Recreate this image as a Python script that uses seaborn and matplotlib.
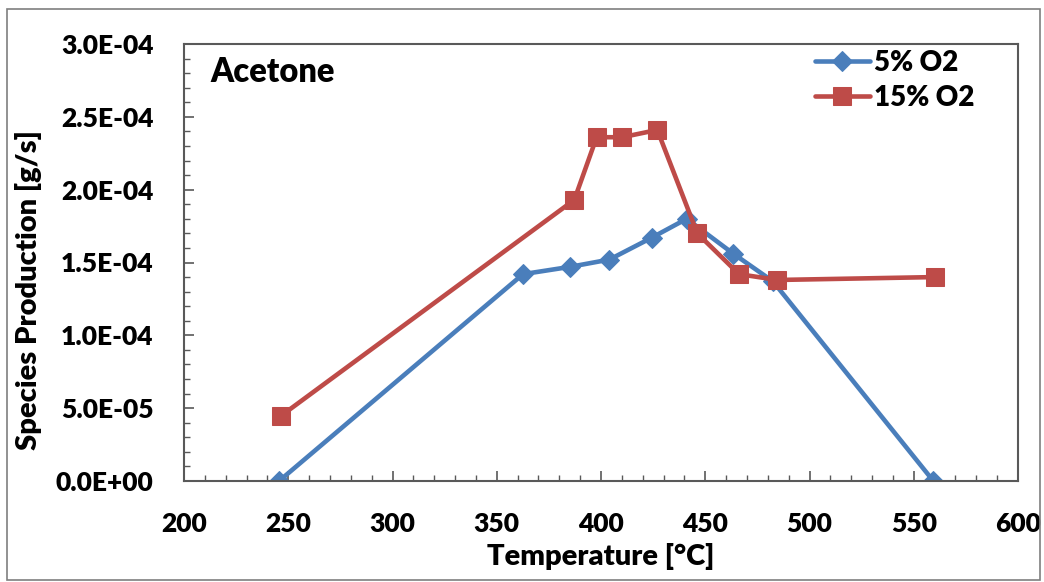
import matplotlib
matplotlib.use("Agg")
import matplotlib.pyplot as plt
import seaborn as sns
import pandas as pd
from matplotlib.ticker import MultipleLocator
from matplotlib.patches import Rectangle

# Data
temp_5 = [245.6, 362.6, 385.1, 404.0, 424.3, 441.1, 463.5, 482.5, 559.4]
prod_5 = [0.0, 1.42e-4, 1.47e-4, 1.52e-4, 1.67e-4, 1.80e-4, 1.56e-4, 1.37e-4, 0.0]
temp_15 = [246.4, 387.2, 397.9, 410.2, 427.0, 446.2, 466.2, 484.6, 560.2]
prod_15 = [4.46e-5, 1.93e-4, 2.36e-4, 2.36e-4, 2.41e-4, 1.70e-4, 1.42e-4, 1.38e-4, 1.40e-4]
series_names = ["5% O2", "15% O2"]
x_ticks = [200, 250, 300, 350, 400, 450, 500, 550, 600]
y_ticks = [0.0, 5e-5, 1e-4, 1.5e-4, 2e-4, 2.5e-4, 3e-4]
y_tick_labels = ["0.0E+00", "5.0E-05", "1.0E-04", "1.5E-04", "2.0E-04", "2.5E-04", "3.0E-04"]

df5 = pd.DataFrame({"T": temp_5, "P": prod_5, "s": series_names[0]})
df15 = pd.DataFrame({"T": temp_15, "P": prod_15, "s": series_names[1]})

sns.set_theme(style="white")
plt.rcParams['font.family'] = ['Lato', 'DejaVu Sans']

W = "heavy"
fig = plt.figure(figsize=(10.44, 5.82), dpi=100)
ax = fig.add_axes([184/1044, 1-481/582, (1018-184)/1044, (481-44)/582])

blue = "#4A7EBB"
red = "#BE4B48"
sns.lineplot(data=df5, x="T", y="P", sort=False, ax=ax, color=blue, lw=3.3,
             marker="D", markersize=10, markeredgecolor=blue, label=series_names[0])
sns.lineplot(data=df15, x="T", y="P", sort=False, ax=ax, color=red, lw=3.3,
             marker="s", markersize=12.5, markeredgecolor=red, label=series_names[1])

ax.set_xlim(200, 600)
ax.set_ylim(0, 3e-4)
ax.set_xticks(x_ticks)
ax.set_yticks(y_ticks)
ax.xaxis.set_minor_locator(MultipleLocator(10))
ax.yaxis.set_minor_locator(MultipleLocator(1e-5))
ax.set_yticklabels(y_tick_labels)
ax.set_xticklabels([str(t) for t in x_ticks])

spine_c = "#595959"
for sp in ax.spines.values():
    sp.set_color(spine_c)
    sp.set_linewidth(1.5)
    sp.set_visible(True)
ax.tick_params(which="major", direction="in", length=7, width=1.2, color=spine_c,
               labelsize=19, pad=22, bottom=True, left=True)
ax.tick_params(which="minor", direction="in", length=4, width=1.0, color=spine_c,
               bottom=True, left=True)
for lab in ax.get_xticklabels() + ax.get_yticklabels():
    lab.set_fontweight(W)
    lab.set_color("black")

ax.set_xlabel("Temperature [°C]", fontsize=21, fontweight=W, labelpad=5, color="black")
ax.set_ylabel("Species Production [g/s]", fontsize=21, fontweight=W, color="black")
ax.yaxis.set_label_coords((42-184)/834, (481-290)/437)

ax.text(0.032, 0.972, "Acetone", transform=ax.transAxes, fontsize=23.5, fontweight=W,
        va="top", ha="left", color="black")

leg = ax.legend(loc="upper right", bbox_to_anchor=(0.978, 1.043), frameon=False,
                fontsize=20, handlelength=2.0, handletextpad=0.15, labelspacing=0.3)
for t in leg.get_texts():
    t.set_fontweight(W)
    t.set_color("black")

fig.patches.append(Rectangle((7/1044, 1-580/582), (1040-7)/1044, (580-9)/582,
                             transform=fig.transFigure, fill=False, edgecolor="#7f7f7f", lw=1.2))

fig.savefig("out.png", dpi=100)
